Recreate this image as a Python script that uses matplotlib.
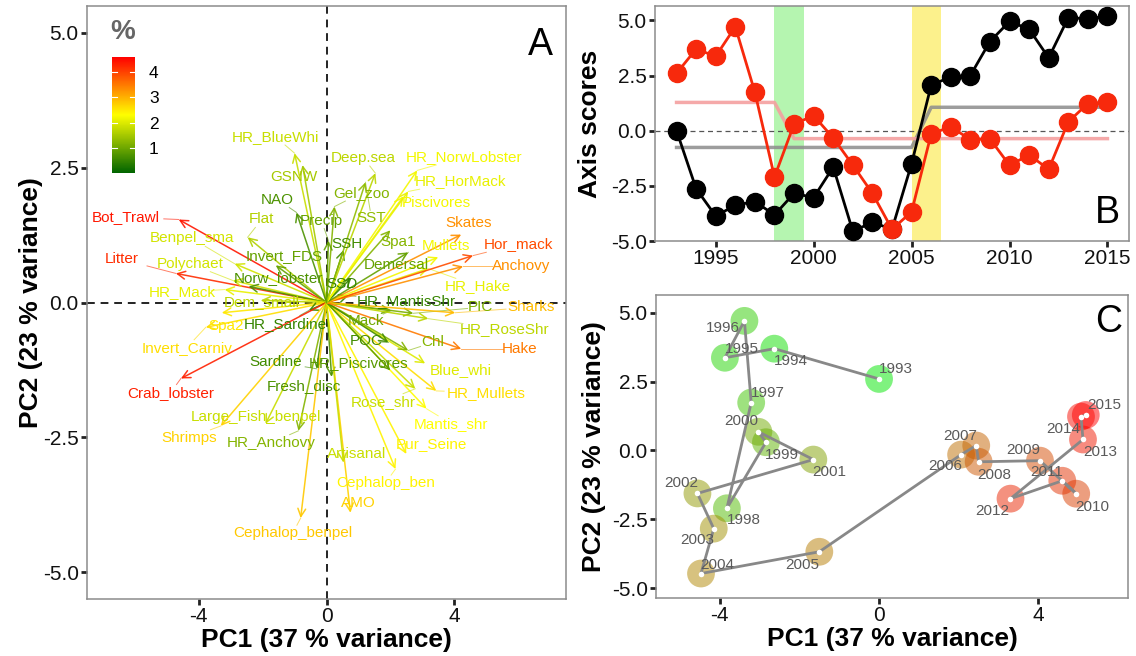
import numpy as np
import matplotlib.pyplot as plt
import matplotlib.colors as mcolors
from matplotlib.cm import ScalarMappable

plt.rcParams['font.family'] = ['Liberation Sans', 'DejaVu Sans']
plt.rcParams['axes.unicode_minus'] = False

# ---- PCA scores per year (panels B and C) ----
years = list(range(1993, 2016))
pc1_scores = [0.0, -2.63, -3.87, -3.38, -3.21, -3.82, -2.84, -3.03, -1.65, -4.56, -4.15, -4.47,
              -1.5, 2.06, 2.44, 2.5, 4.04, 4.95, 4.6, 3.3, 5.12, 5.07, 5.19]
pc2_scores = [2.6, 3.7, 3.37, 4.71, 1.74, -2.1, 0.3, 0.68, -0.33, -1.56, -2.84, -4.47,
              -3.68, -0.15, 0.18, -0.41, -0.37, -1.57, -1.1, -1.75, 0.4, 1.23, 1.29]

# regime means (step lines in panel B)
pc1_regime_years = [1993, 2005, 2006, 2015]
pc1_regime_vals = [-0.76, -0.76, 1.06, 1.06]
pc2_regime_years = [1993, 1998, 1999, 2015]
pc2_regime_vals = [1.28, 1.28, -0.36, -0.36]

shift_1 = (1998, 1999.5)
shift_2 = (2005, 2006.5)

# ---- loadings (panel A) ----
variables = ['HR_BlueWhi', 'GSNW', 'NAO', 'Bot_Trawl', 'Flat', 'Benpel_sma', 'Invert_FDS',
             'Litter', 'Polychaet', 'Norw_lobster', 'HR_Mack', 'Dem_small', 'Spa2',
             'Invert_Carniv', 'HR_Sardine', 'Crab_lobster', 'Sardine', 'Fresh_disc',
             'Large_Fish_benpel', 'Shrimps', 'HR_Anchovy', 'Cephalop_benpel', 'AMO',
             'Cephalop_ben', 'Artisanal', 'Pur_Seine', 'Mantis_shr', 'Rose_shr', 'HR_Mullets',
             'Blue_whi', 'Chl', 'HR_Piscivores', 'POC', 'Mack', 'HR_MantisShr', 'PIC',
             'HR_RoseShr', 'Sharks', 'Hake', 'HR_Hake', 'Anchovy', 'Hor_mack', 'Mullets',
             'Skates', 'Demersal', 'Spa1', 'SSD', 'SSH', 'Piscivores', 'HR_HorMack',
             'HR_NorwLobster', 'SST', 'Gel_zoo', 'Deep.sea', 'Precip']
load_pc1 = [-1.0, -0.75, -0.94, -4.63, -2.47, -2.88, -1.59, -4.72, -2.94, -2.44, -3.19, -2.06,
            -3.28, -3.78, -0.56, -4.56, -0.31, 0.16, -1.91, -3.31, -0.88, -0.81, 0.75, 2.16,
            0.53, 2.5, 3.13, 2.78, 3.44, 3.09, 2.56, 2.0, 1.94, 2.03, 0.69, 2.72, 3.19, 4.03,
            4.22, 3.19, 4.28, 4.59, 3.5, 4.22, 2.56, 2.0, 0.78, 0.53, 2.41, 2.56, 2.84, 1.22,
            0.25, 1.53, 0.06]
load_pc2 = [2.77, 2.55, 1.67, 1.54, 1.21, 0.72, 0.69, 0.54, 0.41, 0.3, 0.24, 0.04, -0.19, -0.46,
            -0.15, -1.41, -1.23, -1.38, -2.25, -2.29, -2.38, -4.0, -3.9, -3.09, -2.97, -2.81,
            -1.97, -1.6, -1.64, -1.13, -0.89, -1.26, -0.74, -0.15, 0.13, -0.2, -0.3, -0.19,
            -0.86, 0.63, 0.67, 0.87, 0.84, 1.26, 0.93, 1.34, 0.46, 0.97, 1.97, 2.06, 2.45, 2.23,
            1.78, 2.4, 1.15]
contrib = [1.8, 1.5, 0.7, 4.4, 1.6, 1.9, 0.9, 4.2, 1.9, 0.7, 2.1, 1.7, 2.5, 2.6, 0.5, 4.3, 0.6,
           0.7, 1.8, 2.7, 1.2, 2.8, 2.7, 2.4, 1.8, 2.4, 2.3, 1.8, 2.6, 2.0, 1.2, 0.8, 0.6, 1.0,
           0.5, 1.1, 1.7, 2.9, 3.5, 2.1, 3.3, 3.9, 2.2, 3.3, 0.9, 1.2, 0.5, 0.6, 2.2, 2.1, 2.2,
           1.3, 1.2, 1.7, 0.9]

# where the (repelled) labels sit, in PC units
label_pos = {
    'HR_BlueWhi': (-1.59, 3.07), 'GSNW': (-1.03, 2.32), 'NAO': (-1.53, 1.91),
    'Bot_Trawl': (-6.28, 1.58), 'Flat': (-2.03, 1.54), 'Benpel_sma': (-4.22, 1.19),
    'Invert_FDS': (-1.34, 0.87), 'Litter': (-6.41, 0.8), 'Polychaet': (-4.28, 0.72),
    'Norw_lobster': (-1.5, 0.46), 'HR_Mack': (-4.53, 0.19), 'Dem_small': (-2.03, 0.0),
    'Spa2': (-3.13, -0.43), 'Invert_Carniv': (-4.38, -0.84), 'HR_Sardine': (-1.28, -0.39),
    'Crab_lobster': (-4.88, -1.67), 'Sardine': (-1.59, -1.1), 'Fresh_disc': (-0.72, -1.54),
    'Large_Fish_benpel': (-2.22, -2.12), 'Shrimps': (-4.31, -2.51), 'HR_Anchovy': (-1.72, -2.6),
    'Cephalop_benpel': (-1.06, -4.28), 'AMO': (1.0, -3.72), 'Cephalop_ben': (1.84, -3.35),
    'Artisanal': (0.94, -2.81), 'Pur_Seine': (3.28, -2.62), 'Mantis_shr': (3.91, -2.25),
    'Rose_shr': (1.78, -1.84), 'HR_Mullets': (5.0, -1.67), 'Blue_whi': (4.19, -1.26),
    'Chl': (3.34, -0.74), 'HR_Piscivores': (1.0, -1.12), 'POC': (1.25, -0.72),
    'Mack': (1.25, -0.35), 'HR_MantisShr': (2.5, 0.02), 'PIC': (4.81, -0.09),
    'HR_RoseShr': (5.59, -0.5), 'Sharks': (6.41, -0.09), 'Hake': (6.06, -0.86),
    'HR_Hake': (4.75, 0.3), 'Anchovy': (6.09, 0.67), 'Hor_mack': (6.0, 1.08),
    'Mullets': (3.75, 1.04), 'Skates': (4.44, 1.47), 'Demersal': (2.19, 0.69),
    'Spa1': (2.25, 1.12), 'SSD': (0.47, 0.35), 'SSH': (0.63, 1.08), 'Piscivores': (3.44, 1.84),
    'HR_HorMack': (4.19, 2.25), 'HR_NorwLobster': (4.31, 2.7), 'SST': (1.41, 1.56),
    'Gel_zoo': (1.09, 2.03), 'Deep.sea': (1.16, 2.68), 'Precip': (-0.16, 1.52),
}

# year label offsets in panel C (pixels, y up)
year_offset = {
    1993: (17, 10), 1994: (17, -12), 1995: (17, 9), 1996: (-22, -7), 1997: (17, 10),
    1998: (17, -12), 1999: (16, -13), 2000: (-17, 11), 2001: (16, -12), 2002: (-16, 10),
    2003: (-17, -11), 2004: (16, 9), 2005: (-17, -13), 2006: (-16, -11), 2007: (-16, 10),
    2008: (16, -13), 2009: (-17, 11), 2010: (16, -13), 2011: (-16, 9), 2012: (-18, -12),
    2013: (17, -13), 2014: (-18, -12), 2015: (18, 10),
}

W, H = 1136, 656
fig = plt.figure(figsize=(W / 100, H / 100), dpi=100)


def px_axes(l, t, r, b):
    return fig.add_axes([l / W, 1 - b / H, (r - l) / W, (b - t) / H])


def style(ax):
    for s in ax.spines.values():
        s.set_color('#8c8c8c')
        s.set_linewidth(1.1)
    ax.tick_params(direction='out', length=4, width=2, color='#222222',
                   labelsize=15, labelcolor='#111111', pad=2)


title_kw = dict(fontsize=19, fontweight='bold')

# ---------------- Panel A ----------------
axA = px_axes(87, 6, 566, 599)
axA.set_xlim(-7.5, 7.5)
axA.set_ylim(-5.5, 5.5)
axA.axhline(0, ls=(0, (4, 3)), color='#222222', lw=1.4, zorder=1)
axA.axvline(0, ls=(0, (4, 3)), color='#222222', lw=1.4, zorder=1)

cmap = mcolors.LinearSegmentedColormap.from_list('pct', ['#006400', '#ffff00', '#ff0000'])
norm = mcolors.Normalize(0, 4.6)

sx = 479 / 15.0   # px per PC unit
sy = 593 / 11.0
for name, x, y, c in zip(variables, load_pc1, load_pc2, contrib):
    col = cmap(norm(c))
    axA.annotate('', xy=(x, y), xytext=(0, 0), zorder=2,
                 arrowprops=dict(arrowstyle='->', color=col, lw=1.1, alpha=0.9,
                                 shrinkA=0, shrinkB=0, mutation_scale=14))
    lx, ly = label_pos[name]
    axA.text(lx, ly, name, color=col, fontsize=11, ha='center', va='center', zorder=3)
    # connector from label box edge to arrow tip
    hw = len(name) * 0.55 * 11 * 1.39 / 2 / sx
    hh = 8 / sy
    dx, dy = x - lx, y - ly
    t = min(hw / abs(dx) if dx else np.inf, hh / abs(dy) if dy else np.inf)
    if t < 1:
        ex, ey = lx + t * dx, ly + t * dy
        if np.hypot((x - ex) * sx, (y - ey) * sy) > 6:
            axA.plot([ex, x], [ey, y], color=col, lw=0.7, alpha=0.6, zorder=2)

axA.set_xticks([-4, 0, 4])
axA.set_yticks([-5, -2.5, 0, 2.5, 5])
axA.set_yticklabels(['-5.0', '-2.5', '0.0', '2.5', '5.0'])
style(axA)
axA.set_xlabel('PC1 (37 % variance)', labelpad=1, **title_kw)
axA.set_ylabel('PC2 (23 % variance)', labelpad=0, **title_kw)
axA.text(0.946, 0.934, 'A', transform=axA.transAxes, fontsize=27, ha='center', va='center')

# colourbar inside panel A
cax = px_axes(112, 57, 135, 173)
cb = fig.colorbar(ScalarMappable(norm=norm, cmap=cmap), cax=cax, ticks=[1, 2, 3, 4])
cb.outline.set_visible(False)
cax.tick_params(length=0, labelsize=12.5, pad=10)
for v in [1, 2, 3, 4]:
    cax.axhline(v, color='white', lw=0.8, xmin=0, xmax=0.2)
    cax.axhline(v, color='white', lw=0.8, xmin=0.8, xmax=1)
fig.text(123 / W, 1 - 32 / H, '%', fontsize=20, fontweight='bold', color='#666666',
         ha='center', va='center')

# ---------------- Panel B ----------------
axB = px_axes(655, 6, 1129, 241)
axB.set_xlim(1991.9, 2016.1)
axB.set_ylim(-5.0, 5.65)
axB.axvspan(*shift_1, color='#b5f5b0', lw=0, zorder=0)
axB.axvspan(*shift_2, color='#fcf18c', lw=0, zorder=0)
axB.axhline(0, ls=(0, (4, 3)), color='#555555', lw=0.9, zorder=1)
axB.plot(pc1_regime_years, pc1_regime_vals, color='#8c8c8c', lw=2.5, alpha=0.85, zorder=2)
axB.plot(pc2_regime_years, pc2_regime_vals, color='#f4a0a0', lw=2.5, alpha=0.9, zorder=2)
axB.plot(years, pc1_scores, '-o', color='black', lw=2, ms=13, zorder=3, clip_on=False)
axB.plot(years, pc2_scores, '-o', color='#f7290c', lw=2, ms=13, zorder=4, clip_on=False)
axB.set_xticks([1995, 2000, 2005, 2010, 2015])
axB.set_yticks([-5, -2.5, 0, 2.5, 5])
axB.set_yticklabels(['-5.0', '-2.5', '0.0', '2.5', '5.0'])
style(axB)
axB.set_ylabel('Axis scores', labelpad=6, **title_kw)
axB.text(0.954, 0.12, 'B', transform=axB.transAxes, fontsize=27, ha='center', va='center')

# ---------------- Panel C ----------------
axC = px_axes(656, 295, 1128, 598)
axC.set_xlim(-5.6, 6.25)
axC.set_ylim(-5.36, 5.65)
ycmap = mcolors.LinearSegmentedColormap.from_list('yr', ['#00e600', '#b08800', '#ff0000'])
ynorm = mcolors.Normalize(min(years), max(years))
axC.scatter(pc1_scores, pc2_scores, s=20 ** 2, c=[ycmap(ynorm(y)) for y in years],
            alpha=0.5, lw=0, zorder=2)
axC.plot(pc1_scores, pc2_scores, color='#888888', lw=2, zorder=3)
axC.scatter(pc1_scores, pc2_scores, s=4 ** 2, color='white', lw=0, zorder=4)
for yr, x, y in zip(years, pc1_scores, pc2_scores):
    axC.annotate(str(yr), (x, y), xytext=year_offset[yr], textcoords='offset pixels',
                 ha='center', va='center', fontsize=11, color='#5a5a5a', zorder=5)
axC.set_xticks([-4, 0, 4])
axC.set_yticks([-5, -2.5, 0, 2.5, 5])
axC.set_yticklabels(['-5.0', '-2.5', '0.0', '2.5', '5.0'])
style(axC)
axC.set_xlabel('PC1 (37 % variance)', labelpad=1, **title_kw)
axC.set_ylabel('PC2 (23 % variance)', labelpad=4, **title_kw)
axC.text(0.958, 0.911, 'C', transform=axC.transAxes, fontsize=27, ha='center', va='center')

fig.savefig('out.png', dpi=100)
